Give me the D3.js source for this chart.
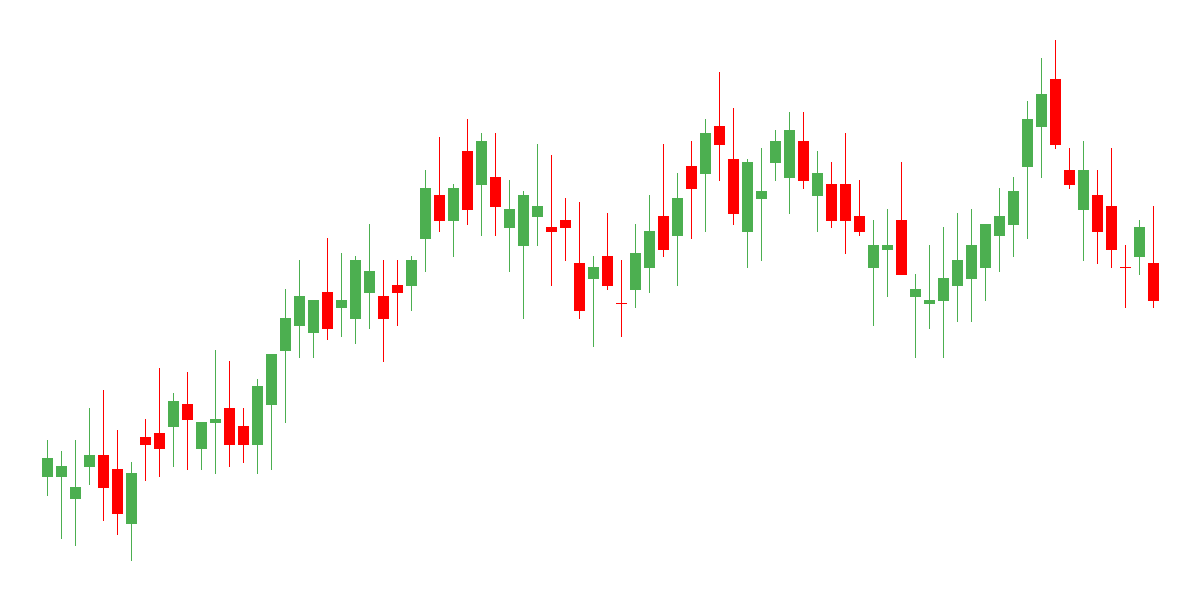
<!DOCTYPE html>
<html>
<head>
<meta charset="utf-8">
<script src="https://d3js.org/d3.v7.min.js"></script>
<style>
  body { margin: 0; background: #fff; }
</style>
</head>
<body>
<div id="chart"></div>
<script>
// OHLC series, one entry per candle
var opens  = [30.8, 30.8, 25.3, 33.3, 36.3, 32.8, 19.1, 40.8, 41.8, 43.3,
              49.0, 37.8, 44.3, 48.0, 43.5, 38.8, 48.8, 62.3, 68.6, 66.8,
              77.0, 73.1, 70.3, 76.8, 76.0, 78.8, 78.6, 90.3, 101.3, 94.8,
              112.3, 103.8, 105.8, 93.1, 88.6, 95.8, 93.3, 95.0, 84.3, 80.3,
              86.0, 74.2, 77.6, 83.1, 96.0, 91.1, 108.5, 106.6, 118.5, 110.3,
              92.1, 100.3, 109.3, 105.6, 114.8, 101.1, 104.0, 104.0, 96.0, 83.1,
              87.6, 95.0, 75.8, 74.1, 74.8, 78.6, 80.3, 83.1, 91.1, 93.8,
              108.3, 118.3, 130.3, 107.5, 97.6, 101.3, 98.5, 83.2, 85.8, 84.3];
var highs  = [40.0, 37.3, 40.0, 48.0, 52.5, 42.5, 34.5, 45.3, 58.0, 51.8,
              57.0, 44.5, 62.5, 59.8, 48.0, 55.3, 61.5, 77.8, 85.0, 75.0,
              90.5, 86.8, 86.0, 94.0, 85.0, 85.0, 86.0, 107.5, 115.8, 104.0,
              120.3, 116.8, 116.8, 105.0, 102.3, 114.0, 111.3, 100.5, 99.5, 86.0,
              96.8, 85.0, 94.0, 101.3, 114.0, 106.8, 114.8, 120.3, 132.0, 123.0,
              110.3, 113.0, 117.5, 122.0, 122.0, 112.3, 109.5, 116.8, 105.0, 95.0,
              97.8, 109.5, 81.5, 88.8, 93.3, 96.8, 97.8, 94.0, 103.0, 105.8,
              124.8, 135.5, 140.0, 113.0, 114.8, 107.5, 113.0, 88.8, 95.0, 98.5];
var lows   = [26.1, 15.3, 13.6, 28.8, 19.8, 16.3, 9.8, 29.8, 30.8, 33.3,
              32.6, 32.6, 31.6, 33.3, 34.3, 31.6, 32.6, 44.3, 60.6, 60.6,
              65.1, 65.8, 64.1, 67.8, 59.6, 68.6, 72.3, 82.0, 92.1, 85.8,
              93.8, 91.1, 91.1, 82.1, 70.3, 88.6, 78.6, 84.8, 70.3, 63.3,
              77.6, 65.8, 73.1, 76.8, 85.8, 78.6, 90.3, 92.1, 104.8, 93.8,
              83.1, 84.8, 104.8, 96.6, 102.8, 92.1, 93.1, 86.6, 91.1, 68.6,
              75.8, 81.3, 60.6, 67.8, 60.6, 69.6, 69.6, 74.8, 82.1, 85.8,
              90.3, 105.6, 112.8, 102.8, 84.8, 84.1, 83.1, 73.1, 81.3, 73.1];
var closes = [35.5, 33.5, 28.3, 36.3, 28.1, 21.6, 31.8, 38.8, 37.8, 49.8,
              45.1, 44.5, 45.3, 38.8, 38.8, 53.5, 61.5, 70.5, 76.0, 75.0,
              67.8, 75.0, 85.0, 82.3, 70.3, 76.8, 85.0, 103.0, 94.8, 103.0,
              97.6, 114.8, 98.3, 97.8, 101.3, 98.5, 92.1, 93.1, 72.3, 83.3,
              78.6, 74.2, 86.8, 92.3, 87.6, 100.5, 102.8, 116.8, 113.8, 96.6,
              109.5, 102.3, 114.8, 117.5, 104.8, 106.8, 94.8, 94.8, 92.1, 88.8,
              88.8, 81.3, 77.8, 75.0, 80.5, 85.0, 88.8, 94.0, 96.0, 102.3,
              120.3, 126.5, 113.8, 103.8, 107.5, 92.1, 87.6, 83.2, 93.3, 74.8];

var upColor = "#4caf50",
    downColor = "#ff0000";

var width = 1200,
    height = 600,
    bodyWidth = 11;

var svg = d3.select("#chart")
    .append("svg")
    .attr("width", width)
    .attr("height", height);

// Scales: candle index across, price up
var x = d3.scaleLinear()
    .domain([0, opens.length - 1])
    .range([47, 1153]);

var y = d3.scaleLinear()
    .domain([0, 150])
    .range([height, 0]);

var candles = svg.append("g")
    .selectAll("g")
    .data(d3.range(opens.length))
    .enter()
    .append("g")
    .attr("fill", function(i) { return closes[i] > opens[i] ? upColor : downColor; })
    .attr("stroke", function(i) { return closes[i] > opens[i] ? upColor : downColor; });

// Wick
candles.append("line")
    .attr("x1", function(i) { return Math.round(x(i)) + 0.5; })
    .attr("x2", function(i) { return Math.round(x(i)) + 0.5; })
    .attr("y1", function(i) { return Math.round(y(highs[i])); })
    .attr("y2", function(i) { return Math.round(y(lows[i])); })
    .attr("stroke-width", 1);

// Body, snapped to pixels (at least 1px tall for dojis)
candles.append("rect")
    .attr("x", function(i) { return Math.round(x(i)) - 5; })
    .attr("width", bodyWidth)
    .attr("y", function(i) { return Math.round(y(Math.max(opens[i], closes[i]))); })
    .attr("height", function(i) {
        var top = Math.round(y(Math.max(opens[i], closes[i]))),
            bottom = Math.round(y(Math.min(opens[i], closes[i])));
        return Math.max(1, bottom - top);
    })
    .attr("stroke", "none");
</script>
</body>
</html>
